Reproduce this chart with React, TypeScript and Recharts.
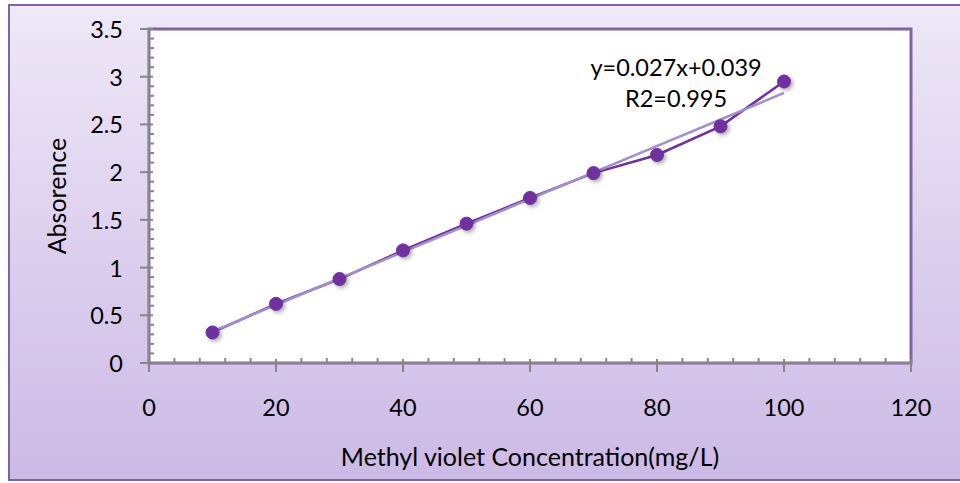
import React from 'react';
import { ComposedChart, Line, XAxis, YAxis, CartesianGrid, ReferenceArea, Label } from 'recharts';

const concentrations = [10, 20, 30, 40, 50, 60, 70, 80, 90, 100];
const absorbance = [0.32, 0.62, 0.88, 1.18, 1.46, 1.73, 1.99, 2.18, 2.48, 2.95];
const trendX = [10, 100];
const trendY = [0.33, 2.83];
const xTickLabels = [0, 20, 40, 60, 80, 100, 120];
const yTickLabels = [0, 0.5, 1, 1.5, 2, 2.5, 3, 3.5];
const xMinorTicks = Array.from({ length: 31 }, (_, i) => i * 4);
const yMinorTicks = Array.from({ length: 36 }, (_, i) => Math.round(i * 10) / 100);
const equationText = 'y=0.027x+0.039';
const r2Text = 'R2=0.995';
const xTitle = 'Methyl violet Concentration(mg/L)';
const yTitle = 'Absorence';

const data = concentrations.map((x, i) => ({ x, y: absorbance[i] }));
const trend = trendX.map((x, i) => ({ x, t: trendY[i] }));

const FONT = 'Lato, "Open Sans", sans-serif';
const FS = 23.5;
const FS_TITLE = 25;
const AXIS = '#868686';
const PURPLE = '#7030a0';
const BORDER = '#8064a2';

const isMajorX = (v: number) => xTickLabels.includes(v);
const isMajorY = (v: number) => yTickLabels.some((t) => Math.abs(t - v) < 1e-6);

const XTick = (props: any) => {
  const { x, y, payload } = props;
  const v = payload.value;
  const major = isMajorX(v);
  return (
    <g>
      <line x1={x} x2={x} y1={major ? y - 4 : y - 5} y2={major ? y + 9 : y} stroke={AXIS} strokeWidth={2} />
      {major && (
        <text x={x} y={y + 44} textAnchor="middle" dominantBaseline="central" fontFamily={FONT} fontSize={FS} fill="#000">
          {v}
        </text>
      )}
    </g>
  );
};

const YTick = (props: any) => {
  const { x, y, payload } = props;
  const v = payload.value;
  const major = isMajorY(v);
  return (
    <g>
      <line x1={major ? x - 9 : x} x2={major ? x + 4 : x + 5} y1={y} y2={y} stroke={AXIS} strokeWidth={2} />
      {major && (
        <text x={x - 26} y={y} textAnchor="end" dominantBaseline="central" fontFamily={FONT} fontSize={FS} fill="#000">
          {String(Math.round(v * 10) / 10)}
        </text>
      )}
    </g>
  );
};

const Dot = (props: any) => {
  const { cx, cy } = props;
  if (cx == null || cy == null) return null;
  return <circle cx={cx} cy={cy} r={6.5} fill={PURPLE} stroke={PURPLE} strokeWidth={1} style={{ filter: 'drop-shadow(2px 2px 2px rgba(0,0,0,0.35))' }} />;
};

const EqLabel = (props: any) => {
  const vb = props.viewBox || {};
  const cx = vb.x + vb.width / 2;
  return (
    <g>
      <text x={cx} y={vb.y + 38} textAnchor="middle" dominantBaseline="central" fontFamily={FONT} fontSize={FS} fill="#000">
        {equationText}
      </text>
      <text x={cx} y={vb.y + 69} textAnchor="middle" dominantBaseline="central" fontFamily={FONT} fontSize={FS} fill="#000">
        {r2Text}
      </text>
    </g>
  );
};

export default function App() {
  return (
    <div style={{ position: 'relative', width: 960, height: 483, overflow: 'hidden' }}>
      <style>{`body{margin:0}`}</style>
      <div
        style={{
          position: 'absolute',
          left: 8,
          top: 4,
          width: 970,
          height: 473,
          border: `2px solid ${BORDER}`,
          background: 'linear-gradient(to bottom, #eee8f7 0%, #ddd0ee 50%, #ccbae6 100%)',
        }}
      />
      <div style={{ position: 'absolute', left: 0, top: 0 }}>
        <ComposedChart width={960} height={483} data={data} margin={{ top: 29, right: 49, bottom: 0, left: 0 }}>
          <CartesianGrid horizontal={false} vertical={false} fill="#ffffff" />
          <ReferenceArea x1={0} x2={120} y1={0} y2={3.5} fill="none" stroke={BORDER} strokeWidth={3} ifOverflow="visible" />
          <ReferenceArea x1={78} x2={88} y1={3.5} y2={3.5} fill="none" stroke="none" ifOverflow="visible" label={<EqLabel />} />
          <XAxis
            type="number"
            dataKey="x"
            domain={[0, 120]}
            ticks={xMinorTicks}
            interval={0}
            height={120}
            tickSize={0}
            tickMargin={0}
            tickLine={false}
            tick={<XTick />}
            axisLine={{ stroke: AXIS, strokeWidth: 2 }}
          >
            <Label position="center" dy={34} fontFamily={FONT} fontSize={FS_TITLE} fill="#000" value={xTitle} />
          </XAxis>
          <YAxis
            type="number"
            domain={[0, 3.5]}
            ticks={yMinorTicks}
            interval={0}
            width={149}
            tickSize={0}
            tickMargin={0}
            tickLine={false}
            tick={<YTick />}
            axisLine={{ stroke: AXIS, strokeWidth: 2 }}
          >
            <Label position="center" dx={-17} angle={-90} fontFamily={FONT} fontSize={FS_TITLE} fill="#000" value={yTitle} />
          </YAxis>
          <Line
            data={data}
            dataKey="y"
            stroke={PURPLE}
            strokeWidth={2.5}
            dot={<Dot />}
            activeDot={false}
            isAnimationActive={false}
          />
          <Line
            data={trend}
            dataKey="t"
            stroke="#a28fcc"
            strokeWidth={2.5}
            dot={false}
            activeDot={false}
            isAnimationActive={false}
          />
        </ComposedChart>
      </div>
    </div>
  );
}
